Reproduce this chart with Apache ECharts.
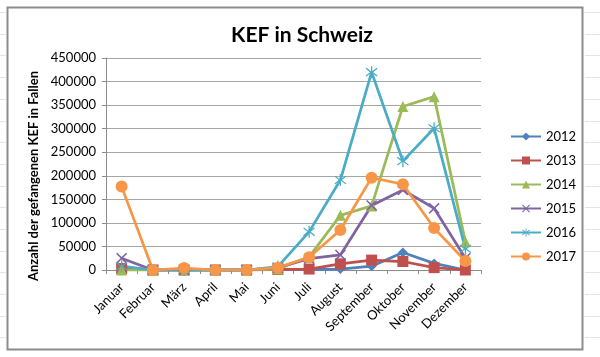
<!DOCTYPE html>
<html><head><meta charset="utf-8">
<script src="https://cdn.jsdelivr.net/npm/echarts@6/dist/echarts.min.js"></script>
<style>html,body{margin:0;padding:0;background:#fff}#c{width:600px;height:357px}</style>
</head><body><div id="c"></div>
<script>
const months = ['Januar','Februar','März','April','Mai','Juni','Juli','August','September','Oktober','November','Dezember'];
const years = ['2012','2013','2014','2015','2016','2017'];
const v2012 = [6000, 0, 0, 0, 0, 2000, 1000, 2000, 8000, 37000, 14000, 0];
const v2013 = [3000, 0, 0, 0, 0, 1000, 2000, 13000, 21000, 18000, 5000, 0];
const v2014 = [0, 0, 0, 0, 0, 2000, 28000, 116000, 136000, 347000, 368000, 60000];
const v2015 = [25000, 0, 0, 0, 0, 5000, 24000, 32000, 137000, 170000, 131000, 25000];
const v2016 = [8000, 0, 0, 0, 0, 7000, 81000, 191000, 420000, 231000, 301000, 45000];
const v2017 = [177000, 0, 4000, 0, 0, 5000, 27000, 85000, 196000, 182000, 89000, 19000];
const yTicks = [0, 50000, 100000, 150000, 200000, 250000, 300000, 350000, 400000, 450000];
const values = [v2012, v2013, v2014, v2015, v2016, v2017];
const colors = ['#4F81BD','#C0504D','#9BBB59','#8064A2','#4BACC6','#F79646'];
const symbols = ['diamond','rect','triangle',
  'path://M1,0L5,4L9,0L10,1L6,5L10,9L9,10L5,6L1,10L0,9L4,5L0,1Z',
  'path://M4.5,0H5.5V4.3L8.9,1.4L9.6,2.1L6.2,5L9.6,7.9L8.9,8.6L5.5,5.7V10H4.5V5.7L1.1,8.6L0.4,7.9L3.8,5L0.4,2.1L1.1,1.4L4.5,4.3Z',
  'circle'];
const sizes = [10, 11, 11, 11, 12, 12];
const font = 'Lato, "Liberation Sans", sans-serif';

const deco = [];
deco.push({type:'rect', shape:{x:7.5,y:7.5,width:575,height:342}, style:{fill:'none', stroke:'#8c8c8c', lineWidth:2}, z:-1});
for (let y = 12; y < 357; y += 21.7) {
  deco.push({type:'line', shape:{x1:0,y1:Math.round(y)+0.5,x2:6,y2:Math.round(y)+0.5}, style:{stroke:'#e4e4e4', lineWidth:1}});
  deco.push({type:'line', shape:{x1:585,y1:Math.round(y)+0.5,x2:600,y2:Math.round(y)+0.5}, style:{stroke:'#e4e4e4', lineWidth:1}});
}

const chart = echarts.init(document.getElementById('c'), null, {renderer:'canvas'});
chart.setOption({
  animation: false,
  backgroundColor: '#fff',
  graphic: deco,
  title: {text:'KEF in Schweiz', left: 297, textAlign:'center', top: 20,
    textStyle:{fontFamily:font, fontWeight:'bold', fontSize:21, color:'#000'}},
  legend: {
    orient:'vertical', left: 505, top: 125, itemGap: 11, itemWidth: 30, itemHeight: 10,
    data: years,
    textStyle:{fontFamily:font, fontSize:13, color:'#000'}
  },
  grid: {left:106, right:119, top:58, bottom:87},
  xAxis: {
    type:'category', data: months, boundaryGap:true,
    axisLine:{lineStyle:{color:'#8c8c8c'}},
    axisTick:{show:true, alignWithLabel:false, length:4, lineStyle:{color:'#8c8c8c'}},
    axisLabel:{rotate:45, fontFamily:font, fontSize:13, color:'#000', margin:15, interval:0}
  },
  yAxis: {
    type:'value', min: yTicks[0], max: yTicks[yTicks.length-1], interval: 50000,
    name:'Anzahl der gefangenen KEF in Fallen', nameLocation:'middle', nameGap:64, nameRotate:90,
    nameTextStyle:{fontFamily:font, fontWeight:'bold', fontSize:13, color:'#000', padding:[0,24,0,0]},
    axisLine:{show:true, lineStyle:{color:'#8c8c8c'}},
    axisTick:{show:true, length:4, lineStyle:{color:'#8c8c8c'}},
    axisLabel:{fontFamily:font, fontSize:13, color:'#000', margin:10, formatter: v => String(v)},
    splitLine:{lineStyle:{color:'#a6a6a6'}}
  },
  series: years.map((y,i)=>({
    name:y, type:'line', data: values[i],
    symbol: symbols[i], symbolSize: sizes[i], showAllSymbol:true,
    lineStyle:{color:colors[i], width:2.75},
    itemStyle:{color:colors[i]}
  }))
});
</script></body></html>
